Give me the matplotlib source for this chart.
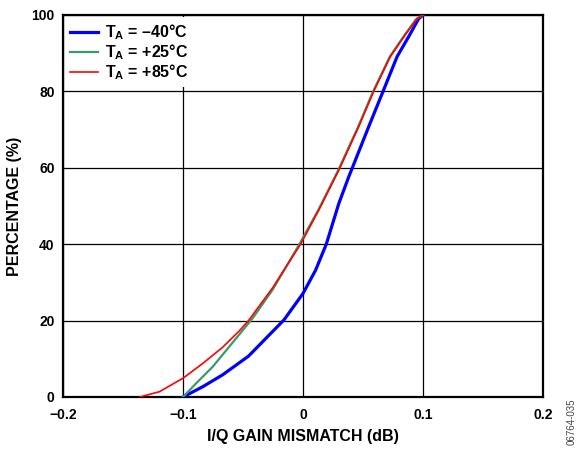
import matplotlib
matplotlib.use('Agg')
import matplotlib.pyplot as plt

plt.rcParams['font.family'] = ['Liberation Sans', 'DejaVu Sans']
plt.rcParams['font.weight'] = 'bold'
plt.rcParams['mathtext.fontset'] = 'custom'
plt.rcParams['mathtext.bf'] = 'Liberation Sans:bold'
plt.rcParams['mathtext.rm'] = 'Liberation Sans:bold'
plt.rcParams['mathtext.default'] = 'bf'

# 数据：从图上读出来的点（累计百分比）
x_m40 = [-0.1, -0.0835, -0.067, -0.0454, -0.0158, 0.0, 0.0105, 0.0194, 0.0299,
         0.0382, 0.0415, 0.0548, 0.0667, 0.0784, 0.088, 0.0963, 0.1]
y_m40 = [0, 2.7, 5.8, 10.7, 20.2, 27.1, 33.2, 40, 50.7,
         57.7, 60.3, 70.8, 80, 89.1, 94.3, 99.0, 100]

x_p25 = [-0.1, -0.089, -0.0753, -0.0614, -0.0454, -0.042, -0.0255, -0.003, 0.0128,
         0.0294, 0.046, 0.0584, 0.0723, 0.0847, 0.0945, 0.1]
y_p25 = [0, 3.6, 7.9, 13.2, 19.3, 20.6, 28.0, 40, 49,
         59.4, 70.8, 80, 89.1, 94.8, 99.0, 100]

x_p85 = [-0.136, -0.1195, -0.0996, -0.0835, -0.067, -0.0531, -0.0454, -0.0255, -0.002,
         0.0133, 0.0299, 0.0465, 0.0589, 0.0728, 0.0852, 0.0949, 0.1]
y_p85 = [0, 1.4, 5.0, 8.8, 13.0, 17.3, 20.0, 28.5, 40,
         49, 59.4, 70.8, 80, 89.1, 94.8, 99.0, 100]

labels = ['T$_A$ = \u201340\u00b0C', 'T$_A$ = +25\u00b0C', 'T$_A$ = +85\u00b0C']
xticks = [-0.2, -0.1, 0, 0.1, 0.2]
xticklabels = ['\u22120.2', '\u22120.1', '0', '0.1', '0.2']
yticks = [0, 20, 40, 60, 80, 100]

fig = plt.figure(figsize=(5.81, 4.5), dpi=100)
ax = fig.add_axes([63/581, 1-397/450, 480/581, 382/450])

ax.plot(x_m40, y_m40, color='#0000ff', lw=2.3, label=labels[0], zorder=3,
        solid_joinstyle='round')
ax.plot(x_p25, y_p25, color='#3a9a6a', lw=1.6, label=labels[1], zorder=3,
        solid_joinstyle='round')
ax.plot(x_p85, y_p85, color='#ff0000', lw=1.2, label=labels[2], zorder=4,
        solid_joinstyle='round')

ax.set_xlim(-0.2, 0.2)
ax.set_ylim(0, 100)
ax.set_xticks(xticks)
ax.set_xticklabels(xticklabels)
ax.set_yticks(yticks)
ax.tick_params(length=0, labelsize=10)
ax.tick_params(axis='x', pad=8)
ax.tick_params(axis='y', pad=6)
ax.grid(True, color='black', lw=0.9)
ax.set_axisbelow(True)
for s in ax.spines.values():
    s.set_linewidth(1.6)

ax.set_xlabel('I/Q GAIN MISMATCH (dB)', fontsize=11.5, fontweight='bold', labelpad=5)
ax.set_ylabel('PERCENTAGE (%)', fontsize=11.5, fontweight='bold', labelpad=7)

leg = ax.legend(loc='upper left', fontsize=11.5, frameon=True, handlelength=1.75,
                borderaxespad=0.15, borderpad=0.3, labelspacing=0.02, handletextpad=0.45)
leg.get_frame().set_edgecolor('none')
leg.get_frame().set_facecolor('white')
leg.get_frame().set_alpha(1)

fig.text(0.984, 0.012, '06764-035', rotation=90, fontsize=7, fontweight='normal',
         color='#444444', ha='center', va='bottom')

plt.savefig('out.png', dpi=100)
